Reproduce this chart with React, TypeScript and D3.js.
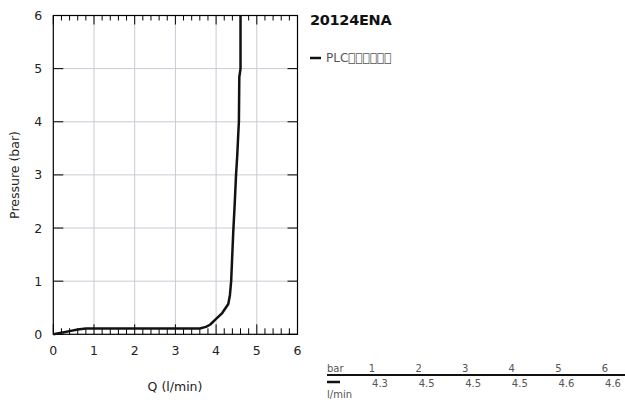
import React from "react";
import * as d3 from "d3";

const title = "20124ENA";
const seriesName = "PLC\uE000\uE001\uE002\uE003\uE004\uE005";
const flowQ = [0, 0.2, 0.4, 0.6, 0.8, 1.0, 2.0, 3.0, 3.6, 3.75, 3.85, 4.0, 4.15, 4.3, 4.34, 4.37, 4.42, 4.46, 4.49, 4.52, 4.545, 4.56, 4.57, 4.6, 4.6];
const pressure = [0, 0.03, 0.06, 0.09, 0.11, 0.11, 0.11, 0.11, 0.11, 0.14, 0.18, 0.29, 0.4, 0.57, 0.74, 1.0, 1.9, 2.5, 3.0, 3.37, 3.78, 4.0, 4.84, 5.0, 6.0];
const xTicks = [0, 1, 2, 3, 4, 5, 6];
const yTicks = [0, 1, 2, 3, 4, 5, 6];
const tableBar = ["1", "2", "3", "4", "5", "6"];
const tableFlow = ["4.3", "4.5", "4.5", "4.5", "4.6", "4.6"];

export default function App() {
  const L = 53.3, R = 297.5, T = 15.5, B = 334.3;
  const x = d3.scaleLinear().domain([0, 6]).range([L, R]);
  const y = d3.scaleLinear().domain([0, 6]).range([B, T]);
  const minor = d3.range(0, 6.001, 0.2).filter((v) => Math.abs(v - Math.round(v)) > 0.01);
  const pts = flowQ.map((_, i) => i);
  const line2 = d3.line<number>().x((i) => x(flowQ[i])).y((i) => y(pressure[i]));
  const font = "DejaVu Sans, sans-serif";
  const tableX = d3.scalePoint<string>().domain(tableBar).range([372, 605]);
  return (
    <svg width={625} height={403} style={{ position: "absolute", left: 0, top: 0 }} fontFamily={font}>
      <rect width={625} height={403} fill="white" />
      {xTicks.slice(1, -1).map((v) => (
        <line key={"gx" + v} x1={x(v)} x2={x(v)} y1={T} y2={B} stroke="#c9cbd3" strokeWidth={1} />
      ))}
      {yTicks.slice(1, -1).map((v) => (
        <line key={"gy" + v} x1={L} x2={R} y1={y(v)} y2={y(v)} stroke="#c9cbd3" strokeWidth={1} />
      ))}
      {xTicks.map((v) => (
        <g key={"tx" + v}>
          <line x1={x(v)} x2={x(v)} y1={T} y2={T + 9} stroke="#000" />
          <line x1={x(v)} x2={x(v)} y1={B} y2={B - 10} stroke="#000" />
          <text x={x(v)} y={B + 21} fontSize={12.5} textAnchor="middle" fill="#222">{v}</text>
        </g>
      ))}
      {minor.map((v) => (
        <g key={"mx" + v}>
          <line x1={x(v)} x2={x(v)} y1={T} y2={T + 5} stroke="#000" />
          <line x1={x(v)} x2={x(v)} y1={B} y2={B - 6} stroke="#000" />
        </g>
      ))}
      {yTicks.map((v) => (
        <g key={"ty" + v}>
          <line x1={L} x2={L + 10} y1={y(v)} y2={y(v)} stroke="#000" />
          <line x1={R} x2={R - 10} y1={y(v)} y2={y(v)} stroke="#000" />
          <text x={L - 11} y={y(v) + 4.5} fontSize={12.5} textAnchor="end" fill="#222">{v}</text>
        </g>
      ))}
      <rect x={L} y={T} width={R - L} height={B - T} fill="none" stroke="#000" strokeWidth={1.2} />
      <path d={line2(pts) || ""} fill="none" stroke="#111" strokeWidth={2.5} strokeLinejoin="round" />
      <text x={175} y={391} fontSize={12.5} textAnchor="middle" fill="#222">Q (l/min)</text>
      <text transform={`translate(19,175) rotate(-90)`} fontSize={12.5} textAnchor="middle" fill="#222">Pressure (bar)</text>
      <text x={310} y={25} fontSize={14.5} fontWeight="bold" fill="#111" letterSpacing={-0.3}>{title}</text>
      <line x1={310} x2={321} y1={58} y2={58} stroke="#111" strokeWidth={2.5} />
      <text x={326} y={62} fontSize={12} fill="#555">{seriesName}</text>
      <text x={327} y={372} fontSize={10} fill="#555">bar</text>
      {tableBar.map((b) => (
        <text key={"b" + b} x={tableX(b)} y={372} fontSize={10} textAnchor="middle" fill="#555">{b}</text>
      ))}
      <line x1={327} x2={625} y1={375} y2={375} stroke="#111" strokeWidth={2} />
      <line x1={327} x2={340} y1={382} y2={382} stroke="#111" strokeWidth={2.5} />
      {tableFlow.map((f, i) => (
        <text key={"f" + i} x={(tableX(tableBar[i]) || 0) + 8} y={387} fontSize={10} textAnchor="middle" fill="#555">{f}</text>
      ))}
      <text x={327} y={398} fontSize={10} fill="#555">l/min</text>
    </svg>
  );
}
